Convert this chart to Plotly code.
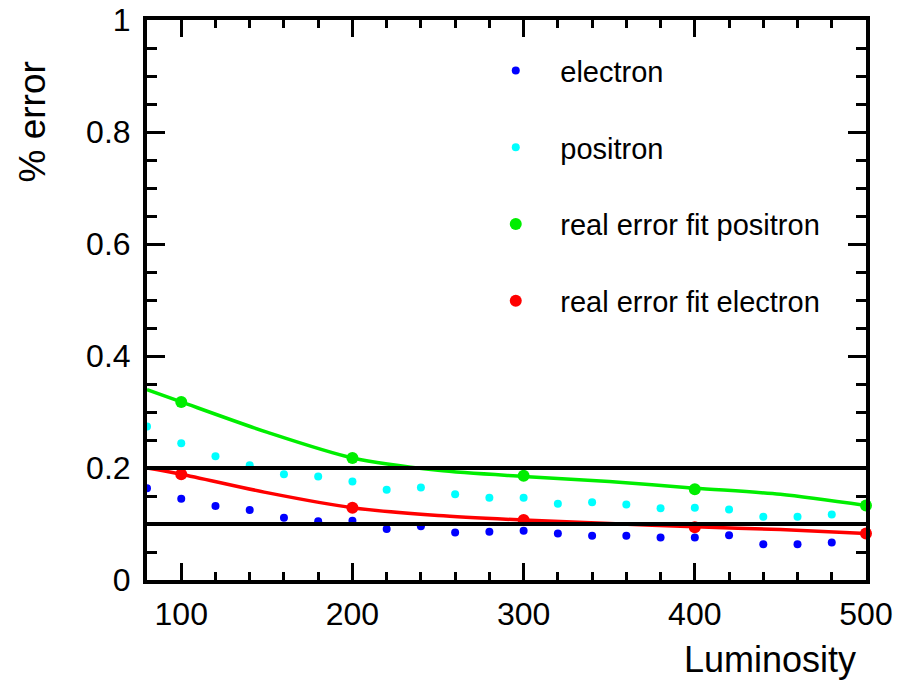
import plotly.graph_objects as go

# ---- data ----
lumi = [80, 100, 120, 140, 160, 180, 200, 220, 240, 260, 280, 300,
        320, 340, 360, 380, 400, 420, 440, 460, 480]
electron = [0.164, 0.145, 0.132, 0.125, 0.111, 0.105, 0.106, 0.091, 0.096, 0.085, 0.086, 0.088,
            0.083, 0.079, 0.079, 0.076, 0.076, 0.080, 0.064, 0.064, 0.067]
positron = [0.274, 0.244, 0.221, 0.205, 0.189, 0.185, 0.176, 0.161, 0.165, 0.153, 0.147, 0.147,
            0.136, 0.139, 0.135, 0.128, 0.129, 0.126, 0.113, 0.113, 0.117]

fit_lumi = [100, 200, 300, 400, 500]
fit_positron = [0.318, 0.218, 0.186, 0.162, 0.133]
fit_electron = [0.189, 0.129, 0.107, 0.094, 0.083]

curve_lumi = [80, 100, 150, 200, 250, 300, 350, 400, 450, 500]
curve_positron = [0.340, 0.318, 0.264, 0.218, 0.196, 0.185, 0.176, 0.164, 0.153, 0.133]
curve_electron = [0.200, 0.189, 0.156, 0.129, 0.115, 0.107, 0.101, 0.095, 0.090, 0.083]

thresholds = [0.1, 0.2]

x_range = [80, 500]
y_range = [0, 1]
x_ticks = [100, 200, 300, 400, 500]
y_ticks = [0, 0.2, 0.4, 0.6, 0.8, 1]
y_ticktext = ["0", "0.2", "0.4", "0.6", "0.8", "1"]

FONT = "Liberation Sans, Arial, sans-serif"

fig = go.Figure()

# fit curves (not in legend)
fig.add_trace(go.Scatter(x=curve_lumi, y=curve_positron, mode="lines",
                         line=dict(color="#00ee00", width=3.5, shape="spline", smoothing=0.8),
                         showlegend=False, hoverinfo="skip"))
fig.add_trace(go.Scatter(x=curve_lumi, y=curve_electron, mode="lines",
                         line=dict(color="#ff0000", width=3.5, shape="spline", smoothing=0.8),
                         showlegend=False, hoverinfo="skip"))

fig.add_trace(go.Scatter(x=lumi, y=electron, mode="markers", name="electron",
                         marker=dict(color="#0000ff", size=8), legendgroup="a"))
fig.add_trace(go.Scatter(x=lumi, y=positron, mode="markers", name="positron",
                         marker=dict(color="#00ffff", size=8), legendgroup="b"))
fig.add_trace(go.Scatter(x=fit_lumi, y=fit_positron, mode="markers", name="real error fit positron",
                         marker=dict(color="#00ee00", size=12), legendgroup="c", cliponaxis=False))
fig.add_trace(go.Scatter(x=fit_lumi, y=fit_electron, mode="markers", name="real error fit electron",
                         marker=dict(color="#ff0000", size=12), legendgroup="d", cliponaxis=False))

for t in thresholds:
    fig.add_shape(type="line", xref="paper", yref="y", x0=0, x1=1, y0=t, y1=t,
                  line=dict(color="black", width=4), layer="above")

fig.update_xaxes(range=x_range, showline=True, linecolor="black", linewidth=4, mirror="allticks",
                 ticks="inside", tickcolor="black", tickwidth=3, ticklen=17,
                 tickvals=x_ticks, showgrid=False, zeroline=False, automargin=False,
                 ticklabelstandoff=3,
                 tickfont=dict(family=FONT, size=32, color="black"),
                 minor=dict(ticks="inside", dtick=20, tick0=0, ticklen=8, tickwidth=3, tickcolor="black",
                            showgrid=False))
fig.update_yaxes(range=y_range, showline=True, linecolor="black", linewidth=4, mirror="allticks",
                 ticks="inside", tickcolor="black", tickwidth=3, ticklen=18,
                 tickvals=y_ticks, ticktext=y_ticktext, showgrid=False, zeroline=False,
                 automargin=False, ticklabelstandoff=6,
                 tickfont=dict(family=FONT, size=32, color="black"),
                 minor=dict(ticks="inside", dtick=0.05, tick0=0, ticklen=10, tickwidth=3, tickcolor="black",
                            showgrid=False))

fig.add_annotation(text="Luminosity", xref="paper", yref="paper", x=1.0, y=0,
                   xanchor="right", yanchor="top", yshift=-57, xshift=-8, showarrow=False,
                   font=dict(family=FONT, size=36, color="black"))
fig.add_annotation(text="% error", xref="paper", yref="paper", x=0, y=1,
                   xanchor="center", yanchor="top", xshift=-115, yshift=-40, textangle=-90,
                   showarrow=False, font=dict(family=FONT, size=37, color="black"))

fig.update_layout(
    width=898, height=685,
    margin=dict(l=147, r=32, t=20, b=105),
    paper_bgcolor="white", plot_bgcolor="white",
    showlegend=True,
    legend=dict(x=0.451, y=0.955, xanchor="left", yanchor="top",
                bgcolor="rgba(0,0,0,0)", borderwidth=0,
                font=dict(family=FONT, size=29, color="black"),
                traceorder="grouped", tracegroupgap=36, itemwidth=79,
                itemsizing="trace"),
)

fig.write_html("out.html")
